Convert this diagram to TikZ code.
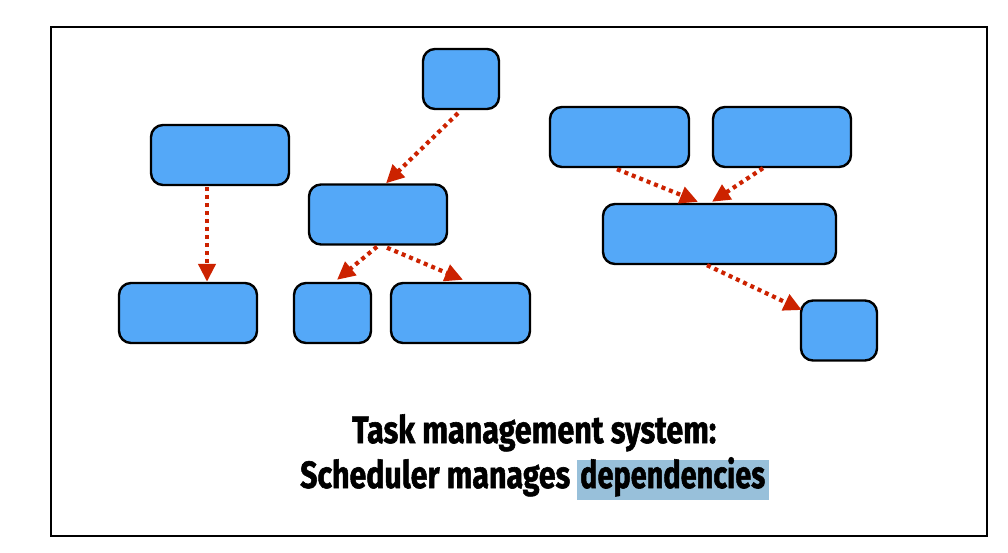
\documentclass[tikz,border=0pt]{standalone}
\usepackage{fontspec}
\usepackage{graphicx}
\usetikzlibrary{arrows.meta}
\newfontfamily\capfont{Fira Sans}[FakeBold=1.6]
\definecolor{boxblue}{HTML}{54A8F8}
\definecolor{deparrow}{HTML}{CC2200}
\definecolor{hlblue}{HTML}{98C0DA}
\tikzset{
  taskbox/.style={draw=black, line width=2.4pt, fill=boxblue, rounded corners=12pt, inner sep=0pt, minimum height=60pt},
  deparr/.style={draw=deparrow, line width=4.2pt, dash pattern=on 4pt off 4pt, -{Triangle[length=18pt,width=17pt]}},
  captext/.style={inner sep=0pt, font=\capfont\bfseries\fontsize{38}{40}\selectfont}
}
\begin{document}
\begin{tikzpicture}[x=1pt, y=-1pt]
\useasboundingbox (0,0) rectangle (1008,552);
\draw[line width=2pt] (51,27) rectangle (987,536);
% left column
\node[taskbox, minimum width=138pt] (L1) at (220,155) {};
\node[taskbox, minimum width=138pt] (L2) at (188,313) {};
% middle group
\node[taskbox, minimum width=76pt] (M0) at (461,79) {};
\node[taskbox, minimum width=138pt] (M1) at (378,214.5) {};
\node[taskbox, minimum width=77pt] (M2) at (332.5,313) {};
\node[taskbox, minimum width=139pt] (M3) at (460.5,313) {};
% right group
\node[taskbox, minimum width=139pt] (R1) at (619.5,137) {};
\node[taskbox, minimum width=138pt] (R2) at (782,137) {};
\node[taskbox, minimum width=233pt] (R3) at (719.5,234) {};
\node[taskbox, minimum width=76pt] (R4) at (839,330.5) {};
% dependencies
\draw[deparr] ([xshift=-13pt,yshift=-1pt]L1.south) -- ([xshift=19pt]L2.north);
\draw[deparr] ([xshift=-3pt,yshift=-3pt]M0.south) -- ([xshift=8pt]M1.north);
\draw[deparr] ([xshift=-1pt,yshift=-1pt]M1.south) -- ([xshift=4.5pt,yshift=2pt]M2.north);
\draw[deparr] ([xshift=9pt,yshift=-2pt]M1.south) -- ([xshift=2.5pt,yshift=2pt]M3.north);
\draw[deparr] ([xshift=-2.5pt,yshift=-1pt]R1.south) -- ([xshift=-21.5pt,yshift=1pt]R3.north);
\draw[deparr] ([xshift=-19pt]R2.south) -- ([xshift=-7.5pt,yshift=1pt]R3.north);
\draw[deparr] ([xshift=-12.5pt]R3.south) -- ([xshift=2pt,yshift=20.5pt]R4.west);
% caption
\node[fill=hlblue, inner sep=0pt, minimum width=192pt, minimum height=40pt] (hl) at (673,480) {};
\node[captext, anchor=base west] (t1) at (352,443) {\resizebox{364pt}{\height}{Task management system:}};
\node[captext, anchor=base west] (t2) at (300,488) {\resizebox{270pt}{\height}{Scheduler manages}};
\node[captext, anchor=base west] (t3) at (580,488) {\resizebox{185pt}{\height}{dependencies}};
\end{tikzpicture}
\end{document}
